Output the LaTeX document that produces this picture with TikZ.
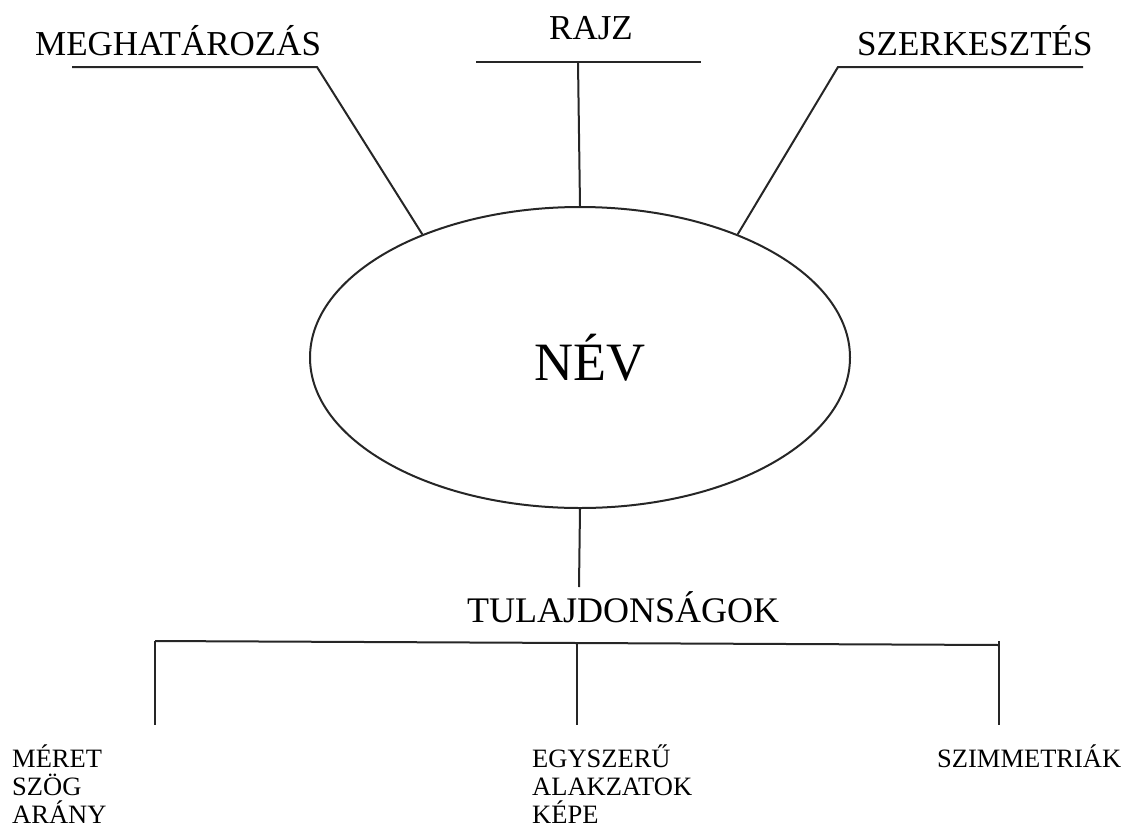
\documentclass[tikz,border=0pt]{standalone}
\usepackage{fontspec}
\setmainfont{Liberation Serif}
\usetikzlibrary{shapes.geometric}
\tikzset{
  ln/.style={line width=2pt, black!85},
  toplabel/.style={inner sep=0pt, anchor=base west, font=\fontsize{35}{40}\selectfont},
  botlabel/.style={inner sep=0pt, anchor=base west, font=\fontsize{26.5}{28}\selectfont},
}
\begin{document}
\begin{tikzpicture}[x=1pt,y=-1pt]
\useasboundingbox (0,0) rectangle (1128,828);
% central ellipse
\node[draw, ln, ellipse, minimum width=540pt, minimum height=301pt, inner sep=0pt] (nev) at (580,357.5) {};
\node[inner sep=0pt, anchor=base, font=\fontsize{54}{60}\selectfont] (nevtext) at (590,380) {NÉV};

% top labels
\node[toplabel] (megh) at (35,55) {MEGHATÁROZÁS};
\node[toplabel] (rajz) at (549,39) {RAJZ};
\node[toplabel] (szerk) at (857,55) {SZERKESZTÉS};

\coordinate (mA) at (72,67);
\coordinate (mB) at (317,67);
\coordinate (rA) at (476,62);
\coordinate (rB) at (701,62);
\coordinate (rM) at (578,62);
\coordinate (sA) at (838,67);
\coordinate (sB) at (1083,67);

\draw[ln] (mA) -- (mB) -- (nev.142.5);
\draw[ln] (rA) -- (rB);
\draw[ln] (rM) -- (nev.north);
\draw[ln] (sB) -- (sA) -- (nev.38.4);

% bottom
\coordinate (tT) at (579,587);
\draw[ln] (nev.south) -- (tT);
\node[inner sep=0pt, anchor=base west, font=\fontsize{36}{40}\selectfont] (tul) at (467,622) {TULAJDONSÁGOK};

\coordinate (hL) at (155,641);
\coordinate (hM) at (577,643);
\coordinate (hR) at (999,645);
\coordinate (vL) at (155,725);
\coordinate (vM) at (577,725);
\coordinate (vR) at (999,725);
\coordinate (hRt) at (999,641);
\draw[ln] (hL) -- (hR);
\draw[ln] (hL) -- (vL);
\draw[ln] (hM) -- (vM);
\draw[ln] (hRt) -- (vR);

\node[botlabel] (l1) at (12,767) {MÉRET};
\node[botlabel] (l2) at (12,795) {SZÖG};
\node[botlabel] (l3) at (12,823) {ARÁNY};
\node[botlabel] (m1) at (532,767) {EGYSZERŰ};
\node[botlabel] (m2) at (532,795) {ALAKZATOK};
\node[botlabel] (m3) at (532,823) {KÉPE};
\node[botlabel] (r1) at (937,767) {SZIMMETRIÁK};
\end{tikzpicture}
\end{document}
